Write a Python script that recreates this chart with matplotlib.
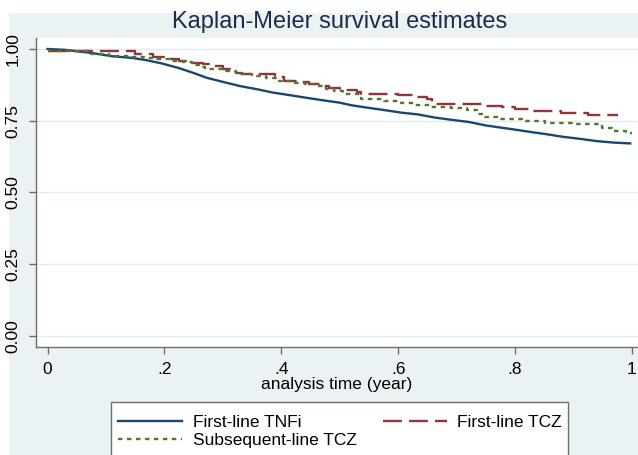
import matplotlib
matplotlib.use("Agg")
import matplotlib.pyplot as plt
from matplotlib.patches import Rectangle

plt.rcParams['font.family'] = ['Liberation Sans', 'DejaVu Sans']

# Data (Kaplan-Meier estimates)
tnfi_t = [0.0, 0.030, 0.076, 0.110, 0.144, 0.167, 0.195, 0.224, 0.252, 0.272, 0.301,
          0.329, 0.358, 0.386, 0.415, 0.443, 0.472, 0.500, 0.520, 0.549, 0.577, 0.606,
          0.634, 0.663, 0.692, 0.720, 0.749, 0.769, 0.797, 0.826, 0.854, 0.882, 0.911,
          0.940, 0.968, 0.997]
tnfi_s = [1.0, 0.997, 0.986, 0.975, 0.969, 0.962, 0.950, 0.934, 0.915, 0.900, 0.885,
          0.871, 0.860, 0.848, 0.839, 0.830, 0.821, 0.813, 0.804, 0.795, 0.787, 0.778,
          0.772, 0.761, 0.753, 0.746, 0.734, 0.728, 0.720, 0.711, 0.703, 0.694, 0.687,
          0.679, 0.674, 0.671]

tcz1_t = [0.0, 0.150, 0.180, 0.205, 0.225, 0.245, 0.266, 0.278, 0.300, 0.322, 0.332,
          0.390, 0.405, 0.435, 0.447, 0.468, 0.482, 0.500, 0.530, 0.537, 0.600, 0.627,
          0.650, 0.657, 0.745, 0.777, 0.800, 0.830, 0.878, 0.925, 0.976]
tcz1_s = [0.992, 0.983, 0.973, 0.965, 0.959, 0.950, 0.947, 0.941, 0.929, 0.917, 0.912,
          0.904, 0.889, 0.885, 0.877, 0.871, 0.865, 0.857, 0.850, 0.842, 0.839, 0.834,
          0.827, 0.809, 0.803, 0.798, 0.790, 0.784, 0.776, 0.769, 0.769]

sub_t = [0.0, 0.075, 0.105, 0.140, 0.165, 0.187, 0.210, 0.232, 0.247, 0.260, 0.270,
         0.300, 0.322, 0.350, 0.373, 0.396, 0.424, 0.441, 0.459, 0.476, 0.490, 0.505,
         0.536, 0.575, 0.604, 0.627, 0.655, 0.690, 0.718, 0.735, 0.745, 0.772, 0.812,
         0.852, 0.898, 0.948, 0.966, 0.990, 1.0]
sub_s = [0.992, 0.983, 0.977, 0.973, 0.969, 0.965, 0.959, 0.954, 0.945, 0.938, 0.929,
         0.923, 0.912, 0.906, 0.900, 0.889, 0.883, 0.877, 0.871, 0.862, 0.852, 0.842,
         0.825, 0.819, 0.813, 0.804, 0.799, 0.795, 0.788, 0.775, 0.763, 0.755, 0.749,
         0.743, 0.738, 0.726, 0.714, 0.708, 0.708]

series_labels = ["First-line TNFi", "First-line TCZ", "Subsequent-line TCZ"]
xticks = [0, 0.2, 0.4, 0.6, 0.8, 1.0]
xticklabels = ["0", ".2", ".4", ".6", ".8", "1"]
yticks = [0, 0.25, 0.5, 0.75, 1.0]
yticklabels = ["0.00", "0.25", "0.50", "0.75", "1.00"]

W, H = 638, 455
fig = plt.figure(figsize=(W / 100, H / 100), dpi=100, facecolor='white')
bg = '#EAF2F3'
fig.patches.append(Rectangle((9 / W, 0), 1 - 9 / W, 1 - 13 / H, transform=fig.transFigure,
                             facecolor=bg, edgecolor='none', zorder=-5))

ax = fig.add_axes([36 / W, (H - 347) / H, (W - 36) / W, (347 - 38) / H])
ax.set_facecolor('white')

c_blue = '#1A476F'
c_red = '#90353B'
c_green = '#55752F'

l1, = ax.plot(tnfi_t, tnfi_s, color=c_blue, lw=1.7, zorder=3)
l2, = ax.plot(tcz1_t, tcz1_s, drawstyle='steps-post', color=c_red, lw=1.7,
              dashes=(8, 3), zorder=3)
l3, = ax.plot(sub_t, sub_s, drawstyle='steps-post', color=c_green, lw=1.7,
              dashes=(1.9, 1.9), zorder=3)

x0px, x1px = 47.5, 632.0
xl = (36 - x0px) / (x1px - x0px)
xr = 1 + (W - x1px) / (x1px - x0px)
ax.set_xlim(xl, xr)
y1px, y0px = 49.0, 336.0
yb = -(347 - y0px) / (y0px - y1px)
yt = 1 + (y1px - 38) / (y0px - y1px)
ax.set_ylim(yb, yt)

ax.set_xticks(xticks)
ax.set_xticklabels(xticklabels, fontsize=12.5, color='black')
ax.set_yticks(yticks)
ax.set_yticklabels(yticklabels, fontsize=12.5, color='black', rotation=90, va='center')
ax.grid(axis='y', color='#E0EBF0', lw=1.0, zorder=1)
ax.grid(axis='x', visible=False)
for s in ['top', 'right']:
    ax.spines[s].set_visible(False)
for s in ['left', 'bottom']:
    ax.spines[s].set_color('#6E6E6E')
    ax.spines[s].set_linewidth(1.0)
ax.tick_params(axis='both', direction='out', length=5, color='#6E6E6E', width=1.0, pad=6)

ax.set_xlabel("analysis time (year)", fontsize=12.5, labelpad=0, color='black')

fig.text(340 / W, 1 - 22 / H, "Kaplan-Meier survival estimates", fontsize=17,
         ha='center', va='center', color='#1E2B4C')

# legend frame
fig.patches.append(Rectangle((111 / W, -0.05), (568 - 111) / W, 0.05 + 1 - 402 / H,
                             transform=fig.transFigure, facecolor='white',
                             edgecolor='#6E6E6E', lw=1.0, zorder=-1))

leg = fig.legend([l1, l3, l2], [series_labels[0], series_labels[2], series_labels[1]],
                 ncol=2, loc='upper left', bbox_to_anchor=(118 / W, 1 - 415 / H),
                 frameon=False, fontsize=12.5, handlelength=3.7,
                 handletextpad=0.6, columnspacing=1.5, borderpad=0,
                 labelspacing=0.18, borderaxespad=0)

fig.savefig("out.png", dpi=100, facecolor=fig.get_facecolor())
